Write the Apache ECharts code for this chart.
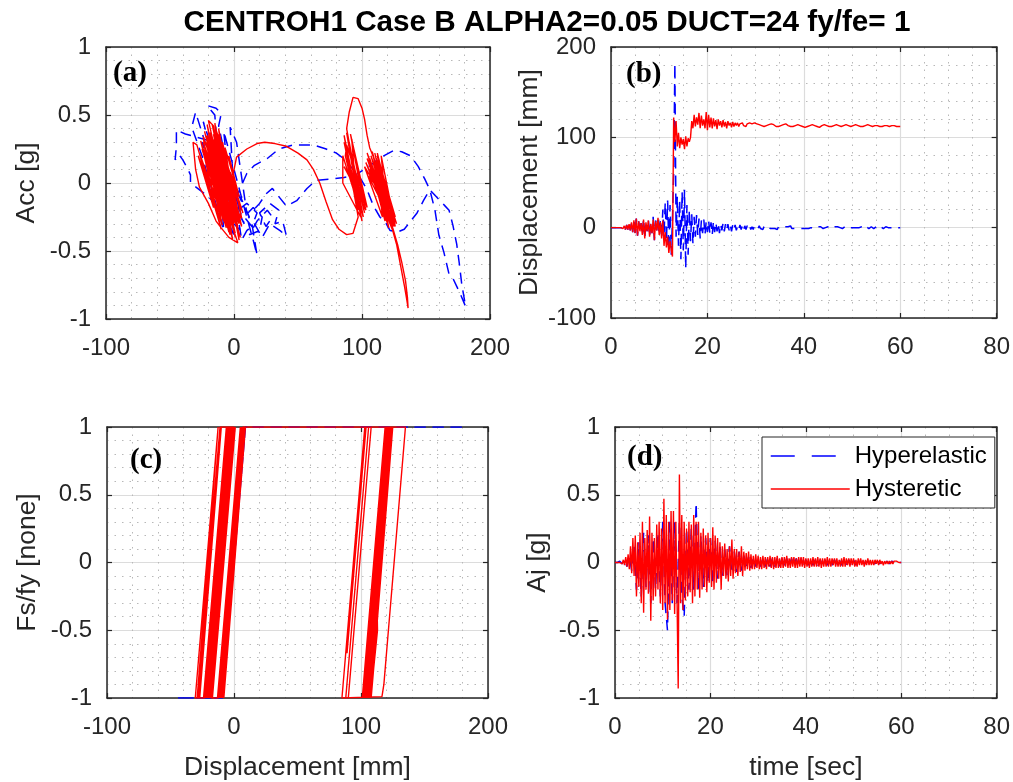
<!DOCTYPE html>
<html>
<head>
<meta charset="utf-8">
<script src="https://cdn.jsdelivr.net/npm/echarts@6/dist/echarts.min.js"></script>
<style>
html,body{margin:0;padding:0;background:#fff;}
#chart{width:1013px;height:782px;}
</style>
</head>
<body>
<div id="chart"></div>
<script>
// ---------- DATA ----------
const titleText = 'CENTROH1 Case B ALPHA2=0.05 DUCT=24 fy/fe= 1';
const seriesNames = ['Hyperelastic', 'Hysteretic'];
const panelLabels = ['(a)', '(b)', '(c)', '(d)'];
const dispTicks = {min: -100, max: 200, interval: 100};
const unitTicks = {min: -1, max: 1, interval: 0.5};
const timeTicks = {min: 0, max: 80, interval: 20};
const dispTimeTicks = {min: -100, max: 200, interval: 100};

// time sampling of the read-off time histories
const bT0 = 0, bDt = 0.25;        // panel (b), both series
const dRedT0 = 0, dRedDt = 0.25;  // panel (d) red
const dBlueT0 = 0, dBlueDt = 0.5; // panel (d) blue

// (b) displacement [mm] vs time, hysteretic
const dispHyst = [
 0,0,0,0,0,0,0,0,0,1,-1,2,-2,3,-2,4,-3,6,-5,8,
 -6,10,-9,7,-4,5,-8,9,-12,6,-4,8,-10,4,-6,9,-14,7,-3,11,
 -8,6,-12,8,-20,-5,-22,-10,-28,-15,-25,-32,122,95,118,90,105,88,100,92,
 98,87,101,90,99,95,100,118,110,125,112,122,114,127,110,124,113,120,110,128,
 108,125,111,122,110,121,112,119,109,120,113,118,111,119,112,117,110,118,113,116,
 111,117,112,116,113,116,112,115,113,116,113,115,112,115,114,116,114,115,113,116,
 115,115,114,114,113,113,112,112,112,113,113,114,114,115,114,114,113,112,112,112,
 113,113,114,114,115,115,114,113,113,112,112,112,113,113,114,114,114,113,113,112,
 112,111,111,112,112,113,114,114,114,113,112,112,111,111,112,113,113,114,114,113,
 113,112,112,112,113,113,114,114,113,113,112,112,112,113,113,114,114,113,112,112,
 112,113,113,114,114,113,113,112,112,112,113,113,114,114,113,113,112,112,112,113,
 113,113,113,112,112,112,113,113,113,113,112,112,112,113,113,113,112,112,112,112,
 112
];
// (b) displacement [mm] vs time, hyperelastic
const dispHyper = [
 0,0,0,0,0,0,0,0,0,1,-1,2,-2,3,-2,4,-3,6,-5,8,
 -6,10,-9,7,-4,5,-8,10,-12,6,-4,9,-10,5,-6,12,-14,8,-3,12,
 -8,10,-12,20,-8,28,-15,30,-25,25,-30,10,60,182,-10,35,-20,30,-35,40,
 -25,42,-45,25,-30,20,-15,15,-18,12,-10,14,-8,10,-12,8,-6,9,-8,7,
 -5,8,-6,6,-8,7,-5,6,-4,5,-6,4,-3,5,-4,4,-3,4,-3,3,
 -4,3,-2,3,-3,2,-2,3,-2,2,-3,2,-2,2,-1,2,-2,1,-2,2,
 -1,1,-1,2,-1,1,-2,1,-1,1,-1,2,-1,1,-1,1,-1,1,-2,1,
 -1,1,-1,1,-1,1,-1,1,-1,2,-1,1,-1,1,-1,1,-1,1,-1,1,
 -1,1,-1,0,-1,1,0,1,-1,1,-1,0,1,-1,1,0,-1,1,0,-1,
 1,0,-1,1,0,-1,1,0,1,-1,0,1,-1,0,1,0,-1,1,0,-1,
 0,1,0,-1,0,1,0,-1,1,0,-1,0,1,0,-1,0,1,0,-1,0,
 1,0,-1,0,1,0,-1,0,1,0,0,-1,0,1,0,0,-1,0,0,1,
 0
];
// (d) Aj [g] vs time, hysteretic
const ajHyst = [
 0,0,0,0,0,0.01,-0.01,0.02,-0.02,0.04,-0.03,0.06,-0.05,0.12,-0.08,0.18,-0.1,0.2,-0.25,0.15,
 -0.18,0.22,-0.3,0.3,-0.37,0.18,-0.2,0.24,-0.23,0.34,-0.43,0.22,-0.28,0.18,-0.25,0.28,-0.2,0.3,-0.3,0.25,
 -0.35,0.47,-0.3,0.35,-0.42,0.3,-0.35,0.38,-0.28,0.38,-0.38,0.3,-0.25,-0.93,0.65,-0.3,0.35,-0.35,0.3,-0.28,
 0.25,-0.25,0.3,-0.22,0.28,-0.3,0.35,-0.25,0.3,-0.2,0.3,-0.26,0.22,-0.2,0.25,-0.18,0.2,-0.22,0.22,-0.15,
 0.18,-0.18,0.26,-0.2,0.2,-0.15,0.18,-0.12,0.15,-0.2,0.12,-0.1,0.14,-0.12,0.1,-0.14,0.12,-0.1,0.17,-0.12,
 0.1,-0.08,0.1,-0.1,0.08,-0.07,0.12,-0.1,0.08,-0.06,0.07,-0.05,0.08,-0.06,0.06,-0.05,0.05,-0.05,0.06,-0.04,
 0.05,-0.05,0.04,-0.05,0.05,-0.04,0.04,-0.05,0.04,-0.03,0.05,-0.04,0.04,-0.05,0.04,-0.04,0.05,-0.04,0.03,-0.04,
 0.04,-0.04,0.04,-0.03,0.05,-0.04,0.03,-0.04,0.04,-0.03,0.04,-0.04,0.03,-0.04,0.04,-0.03,0.04,-0.03,0.04,-0.04,
 0.03,-0.03,0.03,-0.04,0.03,-0.03,0.04,-0.03,0.03,-0.03,0.04,-0.03,0.03,-0.04,0.03,-0.03,0.03,-0.03,0.04,-0.03,
 0.03,-0.03,0.03,-0.02,0.03,-0.03,0.03,-0.03,0.02,-0.03,0.03,-0.03,0.04,-0.03,0.03,-0.02,0.03,-0.03,0.03,-0.02,
 0.03,-0.03,0.02,-0.03,0.03,-0.02,0.03,-0.02,0.02,-0.03,0.02,-0.02,0.03,-0.02,0.02,-0.02,0.02,-0.02,0.02,-0.01,
 0.02,-0.02,0.02,-0.01,0.01,-0.02,0.01,-0.01,0.01,-0.01,0.01,-0.01,0.01,-0.01,0.01,0,0.01,0,0,0,
 0
];
// (d) Aj [g] vs time, hyperelastic
const ajHyper = [
 0,0,0.01,-0.01,0.02,-0.03,0.05,-0.06,0.12,-0.2,0.15,-0.25,0.22,-0.18,0.2,-0.3,0.18,-0.2,0.22,-0.25,
 0.3,-0.3,-0.5,0.3,-0.3,0.3,-0.3,0.3,-0.25,-0.4,0.25,-0.2,0.25,-0.2,0.44,-0.2,0.2,-0.18,0.18,-0.15,
 0.18,-0.15,0.16,-0.12,0.12,-0.1,0.1,-0.1,0.12,-0.08,0.08,-0.07,0.08,-0.06,0.05,-0.04,0.04,-0.04,0.04,-0.03,
 0.03,-0.03,0.03,-0.03,0.03,-0.03,0.03,-0.03,0.03,-0.03,0.03,-0.03,0.03,-0.03,0.03,-0.03,0.03,-0.03,0.03,-0.03,
 0.02,-0.02,0.03,-0.02,0.02,-0.03,0.02,-0.02,0.02,-0.02,0.02,-0.02,0.02,-0.02,0.02,-0.02,0.02,-0.02,0.02,-0.02,
 0.02,-0.02,0.01,-0.02,0.01,-0.01,0.01,-0.01,0.01,-0.01,0.01,-0.01,0.01,-0.01,0.01,-0.01,0.01,0,0.01,0,
 0
];
// (a) Acc [g] vs displacement [mm], hysteretic path
const accDispHyst = [
 [0,0],[-3,0.08],[2,-0.1],[-6,0.14],[4,-0.16],[-9,0.2],[3,-0.22],[-13,0.27],[0,-0.26],[-16,0.32],[-2,-0.3],[-19,0.37],[-5,-0.28],[-21,0.43],[-8,-0.2],[-23,0.38],[-3,-0.38],[-26,0.31],[-10,-0.34],[-29,0.28],[-32,0.3],[-30,0.1],[-27,-0.03],[-20,-0.15],[-14,-0.28],[-10,-0.33],[-4,-0.4],[3,-0.44],[-2,-0.3],[-20,0.46],[-16,0.42],[-3,-0.25],[-12,0.36],[4,-0.42],[-9,0.3],[6,-0.32],[-15,0.27],[1,-0.37],[-22,0.22],[-7,-0.25],[-26,0.16],[-18,-0.1],[-24,0.34],[-1,-0.29],[-19,0.26],[5,-0.4],[-13,0.18],[2,-0.16],[-10,0.23],[7,-0.22],[-14,0.39],[-6,0.0],[-21,0.31],[0,-0.35],[-17,0.43],[-1,-0.2],[-11,0.31],[3,-0.33],[-7,0.26],[4,-0.1],[-4,0.2],[6,-0.26],
 [-25,0.25],[-6,-0.33],[-22,0.3],[-4,-0.36],[-18,0.33],[1,-0.4],[-16,0.36],[-2,-0.36],[-13,0.3],[2,-0.28],[-11,0.26],[-5,-0.22],[-24,0.3],[-8,-0.28],[-27,0.22],[-12,-0.25],[-20,0.38],[-3,-0.32],[-15,0.44],[0,-0.3],[-18,0.2],[-6,-0.15],[-23,0.26],[-9,-0.31],[-28,0.2],[-16,-0.18],[-21,0.35],[-1,-0.42],[-14,0.33],[3,-0.36],[-9,0.28],[4,-0.3],[-17,0.3],[-2,-0.38],[-12,0.4],[1,-0.25],[-1,0.05],[2,0.19],
 [10,0.25],[18,0.29],[24,0.3],[32,0.29],[41,0.27],[50,0.22],[57,0.17],[62,0.1],[67,0],[72,-0.14],[77,-0.27],[82,-0.34],[88,-0.38],[93,-0.37],[97,-0.25],
 [86,0.35],[98,-0.2],[88,0.37],[100,-0.28],[87,0.3],[95,-0.1],[85,0.2],[85,0.0],[99,-0.25],[89,0.33],[102,-0.22],[90,0.25],[96,-0.05],[86,0.12],[101,-0.15],[91,0.36],[104,-0.18],[88,0.28],
 [87,0.2],[97,-0.2],[86,0.3],[99,-0.22],[90,0.3],[101,-0.25],[88,0.18],[96,-0.15],[92,0.32],[103,-0.2],[89,0.1],[98,-0.12],
 [88,0.4],[90,0.52],[93,0.63],[97,0.62],[100,0.55],[102,0.47],[104,0.35],[106,0.26],[109,0.19],
 [122,-0.3],[104,0.22],[125,-0.32],[107,0.2],[120,-0.2],[103,0.15],[124,-0.35],[110,0.22],[118,-0.1],[105,0.05],[123,-0.28],[112,0.2],[126,-0.25],[106,0.1],[121,-0.33],[108,0.23],[119,-0.15],[102,0.12],[116,-0.25],[111,0.18],[127,-0.3],[109,0.15],
 [113,0.15],[125,-0.3],[110,0.1],[122,-0.25],[106,0.18],[120,-0.3],[115,0.2],[126,-0.32],[108,0.08],[118,-0.28],[112,0.22],[123,-0.2],[104,0.18],[121,-0.28],[124,-0.35],
 [127,-0.45],[130,-0.6],[133,-0.75],[135,-0.86],[136,-0.92],[135.5,-0.84],[134,-0.72],[131,-0.58],[128,-0.46],[124,-0.33],
 [115,0.05],[120,-0.15],[113,0.1]
];
// (a) Acc [g] vs displacement [mm], hyperelastic path
const accDispHyper = [
 [0,0],[-4,0.1],[3,-0.12],[-10,0.22],[5,-0.2],[-18,0.35],[2,-0.3],[-24,0.45],[-6,-0.2],[-30,0.52],[-33,0.41],[-25,0.2],[-8,-0.35],[-15,0.5],[-21,0.57],[-14,0.55],[-10,0.51],[-12,0.42],[0,-0.1],[-3,0.41],[2,0.3],[10,-0.22],[-15,0.3],[-38,0.36],[-45,0.39],[-45,0.27],[-46,0.17],[-43,0.21],[-40,0.17],[-36,0.1],[-34,0.06],[-34,0.0],[-20,-0.1],[5,-0.35],[-15,0.35],[8,-0.3],[-25,0.3],[0,-0.4],[-8,0.38],[12,-0.32],[15,-0.42],[18,-0.53],[14,-0.3],[5,-0.1],
 [12,-0.25],[8,-0.3],[3,-0.2],[10,-0.15],[18,-0.22],[14,-0.32],[8,-0.25],[15,-0.18],[22,-0.25],[20,-0.35],[12,-0.38],[18,-0.28],[26,-0.2],[30,-0.25],[25,-0.32],[20,-0.22],[28,-0.15],[35,-0.2],[32,-0.3],[38,-0.28],[41,-0.39],[36,-0.35],[28,-0.3],[22,-0.4],[16,-0.3],[10,-0.35],[6,-0.42],[4,-0.3],[2,-0.1],
 [10,0.07],[16,0.13],[26,0.18],[35,0.25],[46,0.28],[62,0.28],[72,0.25],[80,0.22],[87,0.17],[93,0.1],[99,0.03],[104,-0.05],[109,-0.17],[114,-0.25],[119,-0.3],[122,-0.35],[128,-0.36],[133,-0.34],[138,-0.28],[143,-0.22],[148,-0.13],[153,-0.05],[157,-0.09],[161,-0.13],[165,-0.17],[168,-0.2],[171,-0.31],[174,-0.45],[176,-0.59],[178,-0.75],[181,-0.91],[177,-0.82],[174,-0.76],[171,-0.7],[168,-0.67],[164,-0.51],[160,-0.38],[157,-0.2],[153,-0.05],[149,0.03],[144,0.12],[138,0.2],[131,0.23],[125,0.24],[115,0.19],[105,0.12],[95,0.06],[86,0.04],[77,0.03],[64,0.02],[57,-0.04],[49,-0.13],[41,-0.17],[35,-0.1],[30,-0.04],[25,-0.08],[20,-0.15],[15,-0.2]
];
// (c) Fs/fy vs displacement [mm], hysteretic path
const forceDispHyst = [
 [0,0],[5,0.56],[-4,-0.44],[9,1],[10,1],[-8,-1],[-9,-1],[9,1],[6,0.67],[-9,-1],[-10,-1],[8,1],[5,0.67],[-10,-1],[-11,-1],[7,1],[-11,-1],[-12.5,-1],[5.5,1],[3,0.72],[-12.5,-1],[-17,-1],[1,1],[-1,0.78],[-17,-1],[-18,-1],[0,1],[-18,-1],[-19,-1],[-1,1],[-19,-1],[-20,-1],[-2,1],[-20,-1],[-21,-1],[-3,1],[-21,-1],[-22,-1],[-4,1],[-22,-1],[-23,-1],[-5,1],[-23,-1],[-24,-1],[-6,1],[-5,1],[-23,-1],[-28,-1],[-10,1],[-9,1],[-27,-1],[-30.5,-1],[-12.5,1],[-11,1],[-29,-1],[-11,1],[-6,1],[-24,-1],[-6,1],[-4,1],[-22,-1],[-4,1],[0,1],[-18,-1],[-13,-1],[5,1],[6,1],[-12,-1],[6,1],[7,1],[-11,-1],[7,1],
 [135,1],[133.5,0.83],[118,-0.9],[116.5,-0.99],[115,-1],[85,-1],[103,1],[104,1],[89,-0.67],[104,1],[106,1],[88,-1],[106,1],[108,1],[90,-1],[108,1],[119,1],[101,-1],[119,1],[120,1],[102,-1],[120,1],[121,1],[103,-1],[121,1],[122,1],[104,-1],[122,1],[123,1],[105,-1],[123,1],[124,1],[106,-1],[124,1],[125,1],[107,-1],[125,1],[126,1],[108,-1],[110,-0.78],[113,-0.5],[112,0]
];
// (c) Fs/fy vs displacement [mm], hyperelastic path
const forceDispHyper = [
 [0,0],[9,1],[20,1],[9,1],[-9,-1],[-30,-1],[-9,-1],[9,1],[0,0],[-9,-1],[-45,-1],[-9,-1],[9,1],[182,1],[9,1],[0,0]
];

// ---------- STYLE ----------
const BLUE = '#0000ff', RED = '#ff0000', INK = '#262626';
const FONT = '"Liberation Sans", Arial, sans-serif';
const grids = [
  {left: 106, top: 47, width: 384, height: 272},
  {left: 611, top: 47, width: 388, height: 271},
  {left: 107, top: 427, width: 381, height: 271},
  {left: 615, top: 427, width: 382, height: 271}
];

function mainAxis(gi, ticks, minorN, name, nameGap, isY) {
  return {
    type: 'value', gridIndex: gi, position: isY ? 'left' : 'bottom',
    min: ticks.min, max: ticks.max, interval: ticks.interval,
    name: name || '', nameLocation: 'middle', nameGap: nameGap || 0,
    nameTextStyle: {fontSize: 26.5, color: INK, fontFamily: FONT},
    axisLine: {show: true, onZero: false, lineStyle: {color: INK, width: 1.5}},
    axisTick: {show: true, inside: true, length: 5, lineStyle: {color: INK, width: 1.2}},
    axisLabel: {show: true, fontSize: 24, color: INK, fontFamily: FONT, margin: isY ? 15 : 17},
    splitLine: {show: true, lineStyle: {color: '#dcdcdc', width: 1.2}},
    minorTick: {show: false, splitNumber: minorN},
    minorSplitLine: {show: true, lineStyle: {color: '#b8b8b8', width: 1, type: [1.5, 6]}}
  };
}
function boxAxis(gi, ticks, isY) {
  return {
    type: 'value', gridIndex: gi, position: isY ? 'right' : 'top',
    min: ticks.min, max: ticks.max, interval: ticks.interval,
    axisLine: {show: true, onZero: false, lineStyle: {color: INK, width: 1.5}},
    axisTick: {show: true, inside: true, length: 5, lineStyle: {color: INK, width: 1.2}},
    axisLabel: {show: false}, splitLine: {show: false}
  };
}

const xAxes = [
  mainAxis(0, dispTicks, 5, '', 0, false),
  mainAxis(1, timeTicks, 4, '', 0, false),
  mainAxis(2, dispTicks, 5, 'Displacement [mm]', 56, false),
  mainAxis(3, timeTicks, 4, 'time [sec]', 56, false),
  boxAxis(0, dispTicks, false), boxAxis(1, timeTicks, false),
  boxAxis(2, dispTicks, false), boxAxis(3, timeTicks, false)
];
const yAxes = [
  mainAxis(0, unitTicks, 5, 'Acc [g]', 66, true),
  mainAxis(1, dispTimeTicks, 5, 'Displacement [mm]', 68, true),
  mainAxis(2, unitTicks, 5, 'Fs/fy [none]', 66, true),
  mainAxis(3, unitTicks, 5, 'Aj [g]', 64, true),
  boxAxis(0, unitTicks, true), boxAxis(1, dispTimeTicks, true),
  boxAxis(2, unitTicks, true), boxAxis(3, unitTicks, true)
];

const sampled = (vals, t0, dt) => vals.map((v, i) => [t0 + i * dt, v]);
function lineSeries(name, gi, data, isBlue) {
  return {
    type: 'line', name: name, xAxisIndex: gi, yAxisIndex: gi, data: data,
    symbol: 'none', showSymbol: false, clip: true, silent: true,
    z: isBlue ? 2 : 3,
    lineStyle: isBlue ? {color: BLUE, width: 1.5, type: [11, 7]} : {color: RED, width: 1.4},
    itemStyle: {color: isBlue ? BLUE : RED}
  };
}

const series = [
  lineSeries(seriesNames[0], 0, accDispHyper, true),
  lineSeries(seriesNames[1], 0, accDispHyst, false),
  lineSeries(seriesNames[0], 1, sampled(dispHyper, bT0, bDt), true),
  lineSeries(seriesNames[1], 1, sampled(dispHyst, bT0, bDt), false),
  lineSeries(seriesNames[0], 2, forceDispHyper, true),
  lineSeries(seriesNames[1], 2, forceDispHyst, false),
  lineSeries(seriesNames[0], 3, sampled(ajHyper, dBlueT0, dBlueDt), true),
  lineSeries(seriesNames[1], 3, sampled(ajHyst, dRedT0, dRedDt), false)
];

const labelPos = [[113, 74], [626, 75], [130, 461], [627, 458]];
const graphics = [
  {type: 'text', x: 547, y: 23, z: 100,
   style: {text: titleText, font: 'bold 29.7px ' + FONT, fill: '#000', textAlign: 'center', textVerticalAlign: 'middle'}}
].concat(panelLabels.map((t, i) => ({
  type: 'text', x: labelPos[i][0], y: labelPos[i][1], z: 100,
  style: {text: t, font: 'bold 29px "Liberation Serif", "Times New Roman", serif', fill: '#000', textAlign: 'left', textVerticalAlign: 'middle'}
})));

const chart = echarts.init(document.getElementById('chart'), null, {renderer: 'canvas'});
chart.setOption({
  animation: false,
  backgroundColor: '#fff',
  grid: grids,
  xAxis: xAxes,
  yAxis: yAxes,
  legend: {
    data: [
      {name: seriesNames[0], lineStyle: {color: BLUE, width: 1.5, type: [24, 17]}},
      {name: seriesNames[1], lineStyle: {color: RED, width: 1.4, type: 'solid'}}
    ],
    orient: 'vertical', left: 762, top: 437,
    itemWidth: 79, itemHeight: 14, itemGap: 9, padding: [7, 8, 7, 8],
    backgroundColor: '#fff', borderColor: INK, borderWidth: 1, borderRadius: 0,
    itemStyle: {opacity: 0},
    textStyle: {fontSize: 24, color: '#000', fontFamily: FONT},
    selectedMode: false
  },
  series: series,
  graphic: graphics
});
</script>
</body>
</html>
